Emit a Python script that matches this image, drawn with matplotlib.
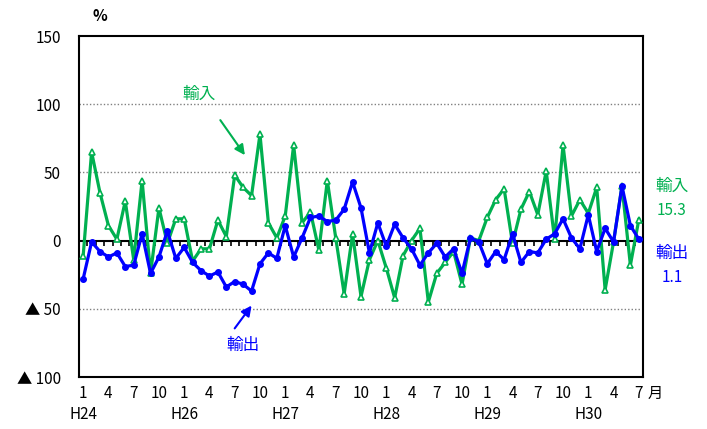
import numpy as np
import matplotlib
matplotlib.use("Agg")
import matplotlib.pyplot as plt

plt.rcParams['font.family'] = ['Noto Sans CJK JP', 'DejaVu Sans']

# monthly change (%), H25.1 - H30.7
imports = [-11, 65, 35, 11, 1, 29, -14, 44, -24, 24, -2, 16, 16, -15, -6, -6, 15, 3, 48, 39,
           33, 78, 13, 2, 18, 70, 13, 21, -7, 44, 2, -39, 5, -41, -14, 0, -20, -42, -11, 0,
           9, -45, -24, -16, -8, -32, 2, 0, 17, 30, 38, -2, 23, 36, 19, 51, 1, 70, 18, 30,
           20, 39, -36, -1, 40, -18, 15.3]
exports = [-28, -1, -8, -12, -9, -19, -18, 5, -24, -12, 7, -13, -5, -16, -22, -26, -23, -34, -30, -32,
           -37, -17, -9, -13, 11, -12, 2, 17, 18, 14, 15, 23, 43, 24, -9, 13, -4, 12, 2, -6,
           -18, -9, -2, -12, -6, -24, 2, -1, -17, -8, -14, 5, -16, -8, -9, 1, 5, 16, 2, -6,
           19, -8, 9, -1, 40, 11, 1.1]
month_labels = ['1', '4', '7', '10'] * 5 + ['1', '4', '7']
year_labels = ['H24', 'H26', 'H27', 'H28', 'H29', 'H30']
ytick_vals = [150, 100, 50, 0, -50, -100]
ytick_text = ['150', '100', '50', '0', '▲ 50', '▲ 100']

green = '#00B050'
blue = '#0000FF'

fig = plt.figure(figsize=(7.07, 4.29), dpi=100)
ax = fig.add_axes([0.1117, 0.1212, 0.7978, 0.7948])

x = np.arange(len(imports))
ax.set_xlim(-0.5, len(imports) - 0.5)
ax.set_ylim(-100, 150)

for g in [100, 50, -50]:
    ax.axhline(g, color='#808080', lw=1, ls=(0, (1, 1.5)), zorder=1)
ax.axhline(0, color='black', lw=1.5, zorder=2)
ax.vlines(np.arange(-0.5, len(imports)), -3.8, 0, color='black', lw=1.2, zorder=2)

ax.plot(x, imports, color=green, lw=2.3, marker='^', ms=4.5, mfc='white',
        mec=green, mew=1.2, zorder=3)
ax.plot(x, exports, color=blue, lw=2.3, marker='o', ms=4, mfc=blue, mec=blue, zorder=4)

for s in ax.spines.values():
    s.set_linewidth(1.5)
    s.set_color('black')

ax.set_xticks([])
ax.set_yticks(ytick_vals)
ax.set_yticklabels(ytick_text, fontsize=11)
ax.tick_params(axis='y', length=0, pad=13)

tr = ax.get_xaxis_transform()
for i, lab in enumerate(month_labels):
    ax.text(3 * i, -0.047, lab, transform=tr, ha='center', va='center', fontsize=11)
ax.text(68, -0.047, '月', transform=tr, ha='center', va='center', fontsize=11)
for i, lab in enumerate(year_labels):
    ax.text(12 * i, -0.111, lab, transform=tr, ha='center', va='center', fontsize=11)

fig.text(100 / 707, 1 - 16 / 429, '%', ha='center', va='center', fontsize=11, fontweight='bold')

ax.annotate('', xy=(19.4, 61), xytext=(16.1, 90),
            arrowprops=dict(arrowstyle='-|>', color=green, lw=1.5, mutation_scale=15))
ax.text(13.8, 107, '輸入', color=green, fontsize=12, ha='center', va='center')
ax.annotate('', xy=(20.2, -46), xytext=(17.8, -66),
            arrowprops=dict(arrowstyle='-|>', color=blue, lw=1.5, mutation_scale=15))
ax.text(19, -77, '輸出', color=blue, fontsize=12, ha='center', va='center')

fig.text(672 / 707, 1 - 186 / 429, '輸入', color=green, fontsize=12, ha='center', va='center')
fig.text(672 / 707, 1 - 210 / 429, '15.3', color=green, fontsize=11, ha='center', va='center')
fig.text(672 / 707, 1 - 253 / 429, '輸出', color=blue, fontsize=12, ha='center', va='center')
fig.text(672 / 707, 1 - 278 / 429, '1.1', color=blue, fontsize=11, ha='center', va='center')

fig.savefig('out.png', dpi=100)
